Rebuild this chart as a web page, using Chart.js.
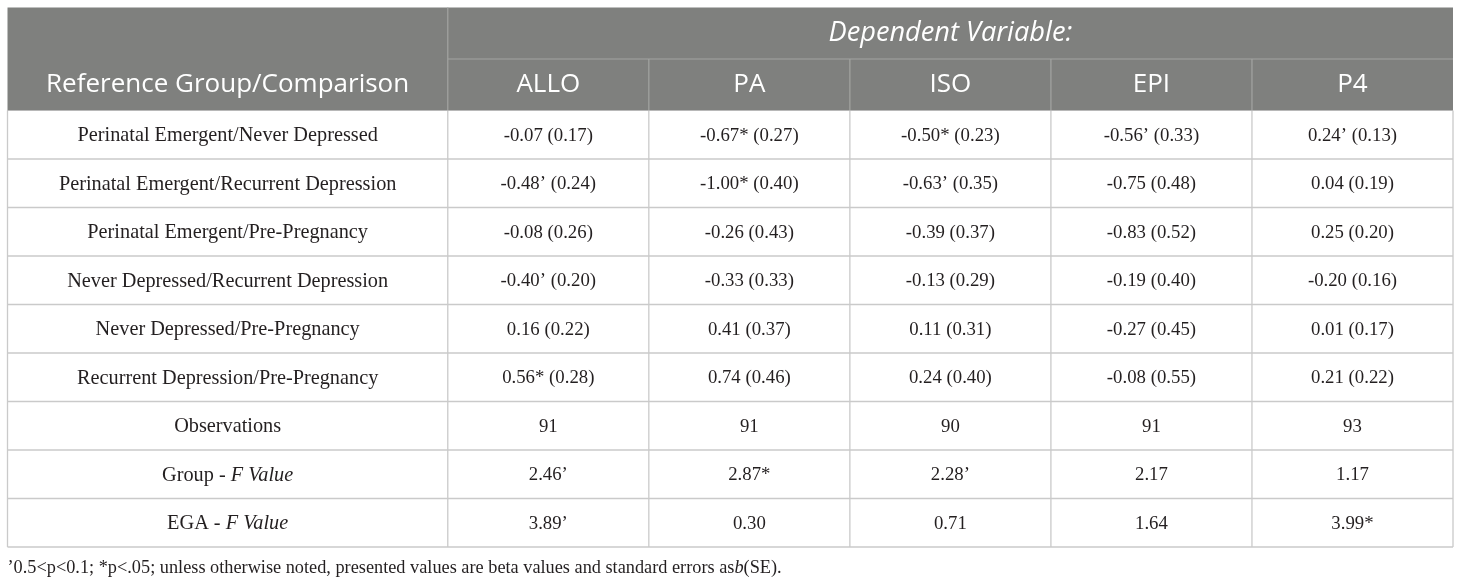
<!DOCTYPE html>
<html><head><meta charset="utf-8">
<script src="https://cdn.jsdelivr.net/npm/chart.js@4.4.1/dist/chart.umd.min.js"></script>
<style>html,body{margin:0;padding:0;background:#fff}#wrap{width:1460px;height:583px;position:relative}</style>
</head><body><div id="wrap"><canvas id="c"></canvas></div>
<script>
// ---------- DATA ----------
const groupHeader = 'Dependent Variable:';
const stubHeader = 'Reference Group/Comparison';
const variables = ['ALLO', 'PA', 'ISO', 'EPI', 'P4'];
const comparisons = [
  'Perinatal Emergent/Never Depressed',
  'Perinatal Emergent/Recurrent Depression',
  'Perinatal Emergent/Pre-Pregnancy',
  'Never Depressed/Recurrent Depression',
  'Never Depressed/Pre-Pregnancy',
  'Recurrent Depression/Pre-Pregnancy'
];
const Q = '\u2019';
const ALLO_beta = [-0.07, -0.48, -0.08, -0.40, 0.16, 0.56];
const ALLO_se   = [0.17, 0.24, 0.26, 0.20, 0.22, 0.28];
const ALLO_sig  = ['', Q, '', Q, '', '*'];
const PA_beta = [-0.67, -1.00, -0.26, -0.33, 0.41, 0.74];
const PA_se   = [0.27, 0.40, 0.43, 0.33, 0.37, 0.46];
const PA_sig  = ['*', '*', '', '', '', ''];
const ISO_beta = [-0.50, -0.63, -0.39, -0.13, 0.11, 0.24];
const ISO_se   = [0.23, 0.35, 0.37, 0.29, 0.31, 0.40];
const ISO_sig  = ['*', Q, '', '', '', ''];
const EPI_beta = [-0.56, -0.75, -0.83, -0.19, -0.27, -0.08];
const EPI_se   = [0.33, 0.48, 0.52, 0.40, 0.45, 0.55];
const EPI_sig  = [Q, '', '', '', '', ''];
const P4_beta = [0.24, 0.04, 0.25, -0.20, 0.01, 0.21];
const P4_se   = [0.13, 0.19, 0.20, 0.16, 0.17, 0.22];
const P4_sig  = [Q, '', '', '', '', ''];
const observations = [91, 91, 90, 91, 93];
const groupF     = [2.46, 2.87, 2.28, 2.17, 1.17];
const groupF_sig = [Q, '*', Q, '', ''];
const egaF       = [3.89, 0.30, 0.71, 1.64, 3.99];
const egaF_sig   = [Q, '', '', '', '*'];
const footnoteParts = [
  {t: Q + '0.5<p<0.1; *p<.05; unless otherwise noted, presented values are beta values and standard errors as'},
  {t: 'b', i: true},
  {t: '(SE).'}
];

// ---------- LAYOUT ----------
const colW = [2.19, 1, 1, 1, 1, 1];
const headRowH = 1.062;
const SERIF = '"Liberation Serif", "Times New Roman", serif';
const SANS = '"Open Sans", "Noto Sans", sans-serif';
const LABEL_SIZE = 20.3;
const NUM_SIZE = 18.8;
const HEAD_SIZE = 26;
const GROUP_SIZE = 27.2;
const FOOT_SIZE = 18.3;

const betas = [ALLO_beta, PA_beta, ISO_beta, EPI_beta, P4_beta];
const ses = [ALLO_se, PA_se, ISO_se, EPI_se, P4_se];
const sigs = [ALLO_sig, PA_sig, ISO_sig, EPI_sig, P4_sig];

const colEdges = [0];
colW.forEach(w => colEdges.push(colEdges[colEdges.length - 1] + w));
const nBody = comparisons.length + 3;
const rowEdges = [0, headRowH, 2 * headRowH];
for (let r = 0; r < nBody; r++) rowEdges.push(rowEdges[rowEdges.length - 1] + 1);
const totalW = colEdges[colEdges.length - 1];
const totalH = rowEdges[rowEdges.length - 1];
const cx = c => (colEdges[c] + colEdges[c + 1]) / 2;
const cy = r => (rowEdges[r] + rowEdges[r + 1]) / 2;

// build cells
const cells = [];
cells.push({x: (colEdges[1] + totalW) / 2, y: cy(0), parts: [{t: groupHeader, i: true}], head: true, size: GROUP_SIZE});
cells.push({x: cx(0), y: cy(1), parts: [{t: stubHeader}], head: true, size: HEAD_SIZE});
variables.forEach((v, j) => cells.push({x: cx(j + 1), y: cy(1), parts: [{t: v}], head: true, size: HEAD_SIZE}));
comparisons.forEach((lab, r) => {
  cells.push({x: cx(0), y: cy(r + 2), parts: [{t: lab}], size: LABEL_SIZE});
  variables.forEach((v, j) => {
    const s = betas[j][r].toFixed(2) + sigs[j][r] + ' (' + ses[j][r].toFixed(2) + ')';
    cells.push({x: cx(j + 1), y: cy(r + 2), parts: [{t: s}], size: NUM_SIZE});
  });
});
let rr = comparisons.length + 2;
cells.push({x: cx(0), y: cy(rr), parts: [{t: 'Observations'}], size: LABEL_SIZE});
observations.forEach((v, j) => cells.push({x: cx(j + 1), y: cy(rr), parts: [{t: String(v)}], size: NUM_SIZE}));
rr++;
cells.push({x: cx(0), y: cy(rr), parts: [{t: 'Group - '}, {t: 'F Value', i: true}], size: LABEL_SIZE});
groupF.forEach((v, j) => cells.push({x: cx(j + 1), y: cy(rr), parts: [{t: v.toFixed(2) + groupF_sig[j]}], size: NUM_SIZE}));
rr++;
cells.push({x: cx(0), y: cy(rr), parts: [{t: 'EGA - '}, {t: 'F Value', i: true}], size: LABEL_SIZE});
egaF.forEach((v, j) => cells.push({x: cx(j + 1), y: cy(rr), parts: [{t: v.toFixed(2) + egaF_sig[j]}], size: NUM_SIZE}));

function fontFor(p, head, size) {
  const fam = head ? SANS : SERIF;
  return (p.i ? 'italic ' : '') + size + 'px ' + fam;
}
function drawParts(ctx, parts, x, y, head, size, align) {
  let w = 0;
  parts.forEach(p => { ctx.font = fontFor(p, head, size); w += ctx.measureText(p.t).width; });
  let sx = align === 'left' ? x : x - w / 2;
  parts.forEach(p => {
    ctx.font = fontFor(p, head, size);
    ctx.fillText(p.t, sx, y);
    sx += ctx.measureText(p.t).width;
  });
}

const tablePlugin = {
  id: 'tablePlugin',
  beforeDatasetsDraw(chart) {
    const {ctx, scales: {x, y}} = chart;
    const X = v => x.getPixelForValue(v), Y = v => y.getPixelForValue(v);
    ctx.save();
    ctx.fillStyle = '#7f807e';
    ctx.fillRect(X(0), Y(0), X(totalW) - X(0), Y(rowEdges[2]) - Y(0));
    ctx.strokeStyle = '#cacaca';
    ctx.lineWidth = 1.3;
    ctx.beginPath();
    for (let r = 3; r < rowEdges.length; r++) {
      ctx.moveTo(X(0), Y(rowEdges[r])); ctx.lineTo(X(totalW), Y(rowEdges[r]));
    }
    colEdges.forEach(c => { ctx.moveTo(X(c), Y(rowEdges[2])); ctx.lineTo(X(c), Y(totalH)); });
    ctx.stroke();
    ctx.strokeStyle = '#a3a4a2';
    ctx.lineWidth = 1.2;
    ctx.beginPath();
    ctx.moveTo(X(colEdges[1]), Y(rowEdges[1])); ctx.lineTo(X(totalW), Y(rowEdges[1]));
    ctx.moveTo(X(colEdges[1]), Y(0)); ctx.lineTo(X(colEdges[1]), Y(rowEdges[2]));
    for (let c = 2; c < colEdges.length - 1; c++) {
      ctx.moveTo(X(colEdges[c]), Y(rowEdges[1])); ctx.lineTo(X(colEdges[c]), Y(rowEdges[2]));
    }
    ctx.stroke();
    ctx.strokeStyle = '#b8b8b8';
    ctx.beginPath();
    ctx.moveTo(X(0), Y(rowEdges[2])); ctx.lineTo(X(totalW), Y(rowEdges[2]));
    ctx.stroke();
    ctx.restore();
  },
  afterDatasetsDraw(chart) {
    const {ctx, scales: {x, y}} = chart;
    const meta = chart.getDatasetMeta(0);
    ctx.save();
    ctx.textBaseline = 'middle';
    meta.data.forEach((el, i) => {
      const c = cells[i];
      ctx.fillStyle = c.head ? '#ffffff' : '#231f20';
      drawParts(ctx, c.parts, el.x, el.y + (c.head ? 0 : 1), !!c.head, c.size, 'center');
    });
    ctx.fillStyle = '#231f20';
    drawParts(ctx, footnoteParts, x.getPixelForValue(0), y.getPixelForValue(totalH + 0.43), false, FOOT_SIZE, 'left');
    ctx.restore();
  }
};

new Chart(document.getElementById('c'), {
  type: 'scatter',
  data: {datasets: [{data: cells.map(c => ({x: c.x, y: c.y})), pointRadius: 0, pointHoverRadius: 0}]},
  options: {
    responsive: true, maintainAspectRatio: false, animation: false,
    layout: {padding: {left: 7.5, right: 7, top: 7.5, bottom: 36}},
    plugins: {legend: {display: false}, tooltip: {enabled: false}},
    events: [],
    scales: {
      x: {type: 'linear', min: 0, max: totalW, display: false},
      y: {type: 'linear', min: 0, max: totalH, reverse: true, display: false}
    }
  },
  plugins: [tablePlugin]
});
</script></body></html>
